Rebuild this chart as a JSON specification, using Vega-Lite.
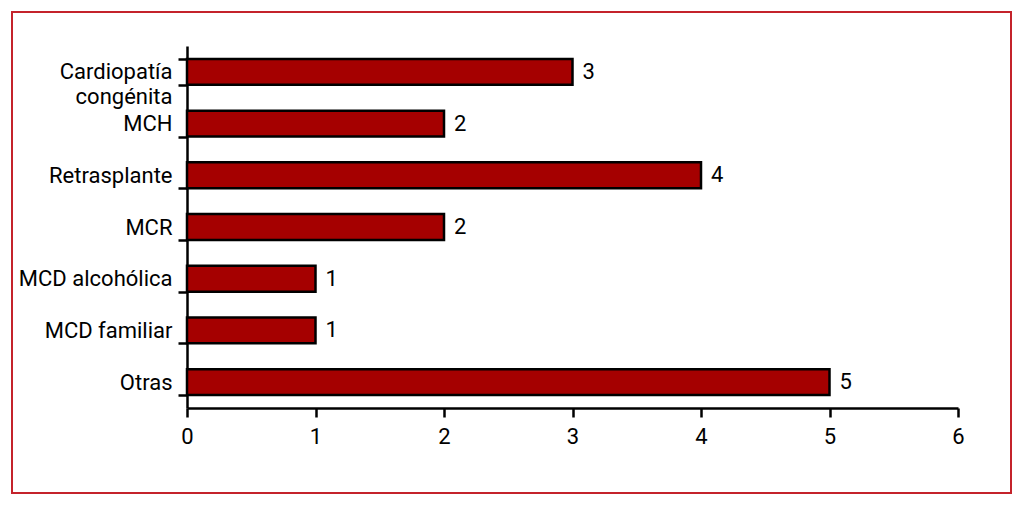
{
  "$schema": "https://vega.github.io/schema/vega-lite/v6.json",
  "width": 771,
  "height": 362,
  "autosize": "none",
  "padding": {"left": 187, "top": 46, "right": 66, "bottom": 99},
  "background": "white",
  "config": {
    "view": {"stroke": null},
    "font": "Roboto",
    "axis": {"grid": false, "domainColor": "black", "tickColor": "black", "labelColor": "black", "labelFont": "Roboto", "labelFontSize": 22, "domainWidth": 2.5, "tickWidth": 2.5, "tickSize": 9}
  },
  "data": {
    "values": [
      {"categoria": "Cardiopatía congénita", "n": 3, "orden": 1},
      {"categoria": "MCH", "n": 2, "orden": 2},
      {"categoria": "Retrasplante", "n": 4, "orden": 3},
      {"categoria": "MCR", "n": 2, "orden": 4},
      {"categoria": "MCD alcohólica", "n": 1, "orden": 5},
      {"categoria": "MCD familiar", "n": 1, "orden": 6},
      {"categoria": "Otras", "n": 5, "orden": 7}
    ]
  },
  "encoding": {
    "y": {
      "field": "categoria",
      "type": "nominal",
      "sort": {"field": "orden", "order": "ascending"},
      "scale": {"paddingInner": 0.5, "paddingOuter": 0.25},
      "axis": {
        "title": null,
        "tickBand": "extent",
        "labelPadding": 6,
        "labelLineHeight": 25,
        "labelExpr": "datum.label == 'Cardiopatía congénita' ? ['Cardiopatía', 'congénita'] : datum.label"
      }
    },
    "x": {
      "field": "n",
      "type": "quantitative",
      "scale": {"domain": [0, 6], "nice": false},
      "axis": {"title": null, "values": [0, 1, 2, 3, 4, 5, 6], "labelPadding": 9, "labelFlush": false, "format": "d"}
    }
  },
  "layer": [
    {
      "mark": {"type": "rect", "fill": null, "stroke": "#c4232b", "strokeWidth": 2, "clip": false},
      "encoding": {
        "x": {"value": -175},
        "x2": {"value": 824},
        "y": {"value": -34},
        "y2": {"value": 447}
      }
    },
    {
      "mark": {"type": "bar", "fill": "#a50000", "stroke": "black", "strokeWidth": 2.5}
    },
    {
      "mark": {"type": "text", "align": "left", "baseline": "middle", "dx": 10, "fontSize": 22, "color": "black"},
      "encoding": {"text": {"field": "n", "type": "quantitative"}}
    }
  ]
}
